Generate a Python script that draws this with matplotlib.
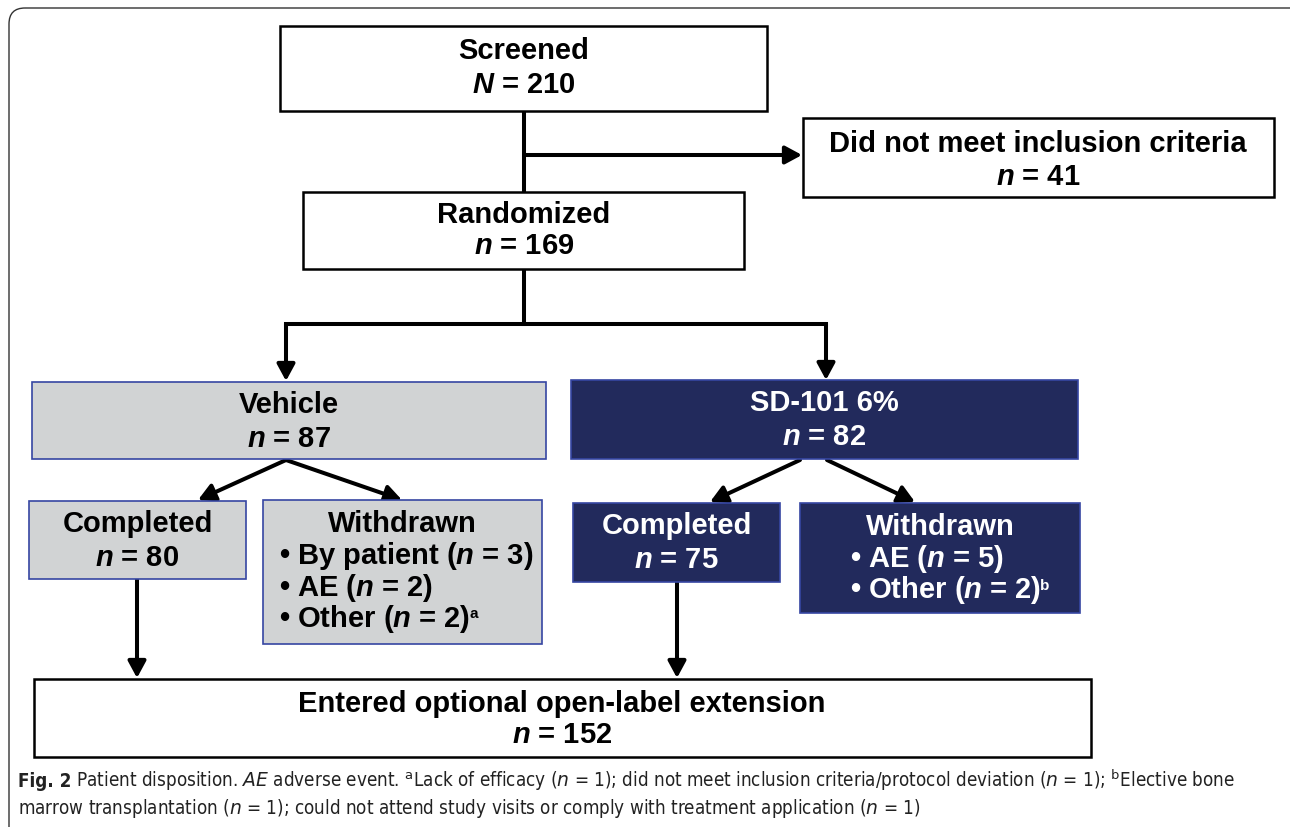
import matplotlib

matplotlib.use("Agg")
import matplotlib.pyplot as plt
from matplotlib.patches import Rectangle, FancyBboxPatch

# flow numbers
screened_n = 210
excluded_n = 41
randomized_n = 169
arm_names = ["Vehicle", "SD-101 6%"]
arm_n = [87, 82]
completed_n = [80, 75]
withdrawn_reasons = [
    [("By patient", 3, ""), ("AE", 2, ""), ("Other", 2, "a")],
    [("AE", 5, ""), ("Other", 2, "b")],
]
extension_n = 152

caption_1 = (r" Patient disposition. $\mathtt{AE}$ adverse event. $^{\mathsf{a}}$Lack of efficacy "
             r"($\mathtt{n}$ = 1); did not meet inclusion criteria/protocol deviation ($\mathtt{n}$ = 1); "
             r"$^{\mathsf{b}}$Elective bone")
caption_2 = (r"marrow transplantation ($\mathtt{n}$ = 1); could not attend study visits or comply "
             r"with treatment application ($\mathtt{n}$ = 1)")

plt.rcParams.update({
    "font.family": "Liberation Sans",
    "mathtext.fontset": "custom",
    "mathtext.it": "Liberation Sans:italic:bold",
    "mathtext.bf": "Liberation Sans:bold",
    "mathtext.sf": "DejaVu Sans",
    "mathtext.tt": "DejaVu Sans:italic",
})

GREY = "#d1d3d4"
NAVY = "#222a5c"
EDGE = "#3646a2"
FS = 21

fig = plt.figure(figsize=(12.9, 8.27), dpi=100)
ax = fig.add_axes([0, 0, 1, 1])
ax.set_xlim(0, 1290)
ax.set_ylim(827, 0)
ax.axis("off")

ax.add_patch(FancyBboxPatch((9, 8), 1300, 900, boxstyle="round,pad=0,rounding_size=16",
                            fc="none", ec="#333333", lw=1.0))


def box(x0, y0, x1, y1, fc="white", ec="black", lw=1.8):
    ax.add_patch(Rectangle((x0, y0), x1 - x0, y1 - y0, fc=fc, ec=ec, lw=lw, zorder=2))


def label(x, y, s, color="black", ha="center"):
    return ax.text(x, y, s, ha=ha, va="baseline", fontsize=FS, fontweight="bold",
                   color=color, zorder=3)


def line(xs, ys):
    ax.plot(xs, ys, color="black", lw=2.9, solid_capstyle="projecting", zorder=1)


def arrow(x0, y0, x1, y1):
    ax.annotate("", xy=(x1, y1), xytext=(x0, y0),
                arrowprops=dict(arrowstyle="-|>,head_length=0.5,head_width=0.27",
                                mutation_scale=20, lw=2.9, color="black",
                                shrinkA=0, shrinkB=0), zorder=1)


# top boxes
box(280, 26, 767, 111)
label(524, 59, "Screened")
label(524, 93, rf"$N$ = {screened_n}")

box(803, 118, 1274, 197)
label(1038, 152, "Did not meet inclusion criteria")
label(1038, 185, rf"$n$ = {excluded_n}")

box(303, 192, 744, 269)
label(524, 223, "Randomized")
label(524, 254, rf"$n$ = {randomized_n}")

line([524, 524], [111, 192])
arrow(524, 155, 802, 155)
line([524, 524], [269, 324])
line([286, 826], [324, 324])
arrow(286, 324, 286, 381)
arrow(826, 324, 826, 380)

# arms
arm_boxes = [(32, 382, 546, 459), (571, 380, 1078, 459)]
comp_boxes = [(29, 501, 246, 579), (573, 503, 780, 582)]
wd_boxes = [(263, 500, 542, 644), (800, 503, 1080, 613)]
bullet_x = [279, 850]
fills = [GREY, NAVY]
inks = ["black", "white"]
notes = []

for i in range(2):
    fc, ink = fills[i], inks[i]
    x0, y0, x1, y1 = arm_boxes[i]
    box(x0, y0, x1, y1, fc=fc, ec=EDGE, lw=1.2)
    cx = (x0 + x1) / 2
    label(cx, y0 + 31, arm_names[i], ink)
    label(cx, y0 + 65, rf"$n$ = {arm_n[i]}", ink)

    x0, y0, x1, y1 = comp_boxes[i]
    box(x0, y0, x1, y1, fc=fc, ec=EDGE, lw=1.2)
    label((x0 + x1) / 2, y0 + 31, "Completed", ink)
    label((x0 + x1) / 2, y0 + 65, rf"$n$ = {completed_n[i]}", ink)

    x0, y0, x1, y1 = wd_boxes[i]
    box(x0, y0, x1, y1, fc=fc, ec=EDGE, lw=1.2)
    label((x0 + x1) / 2, y0 + 32, "Withdrawn", ink)
    for k, (reason, n, note) in enumerate(withdrawn_reasons[i]):
        y = y0 + 64 + 31.5 * k
        t = label(bullet_x[i], y, rf"• {reason} ($n$ = {n})", ink, ha="left")
        if note:
            notes.append((t, y, note, ink))

arrow(286, 460, 198, 500)
arrow(286, 460, 402, 500)
arrow(800, 460, 710, 502)
arrow(827, 460, 915, 502)
arrow(137, 579, 137, 678)
arrow(677, 582, 677, 678)

box(34, 679, 1091, 757)
label(562, 712, "Entered optional open-label extension")
label(562, 743, rf"$n$ = {extension_n}")

# caption
cap_fs = 13
cap_kw = dict(fontfamily="DejaVu Sans", fontstretch="condensed", color="#222222", va="baseline")
fig_t = ax.text(18, 787, "Fig. 2", fontweight="bold", fontsize=cap_fs, **cap_kw)
t1 = ax.text(0, 787, caption_1, fontsize=cap_fs, **cap_kw)
t2 = ax.text(18, 814, caption_2, fontsize=cap_fs, **cap_kw)
fig.canvas.draw()
r = fig.canvas.get_renderer()
w = fig_t.get_window_extent(r).width + t1.get_window_extent(r).width
cap_fs = cap_fs * 1215 / w
for t in (fig_t, t1, t2):
    t.set_fontsize(cap_fs)
fig.canvas.draw()
t1.set_x(fig_t.get_window_extent(r).x1)

for t, y, note, ink in notes:
    ax.text(t.get_window_extent(r).x1 - 1, y - 9, note, fontsize=11, fontweight="bold",
            color=ink, va="baseline", zorder=3)

fig.savefig("out.png", dpi=100)
